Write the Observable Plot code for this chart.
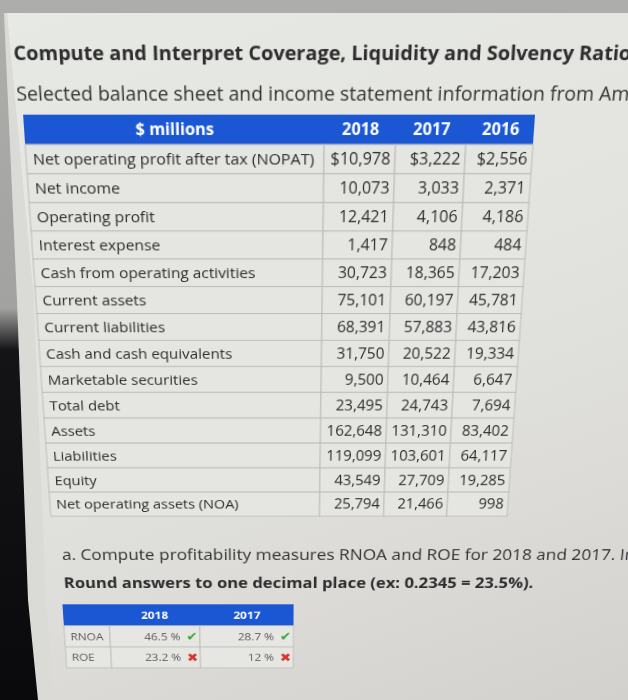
<!DOCTYPE html>
<html><head><meta charset="utf-8">
<script src="https://cdn.jsdelivr.net/npm/d3@7"></script>
<script src="https://cdn.jsdelivr.net/npm/@observablehq/plot@0.6"></script>
<style>
html,body{margin:0;padding:0;width:628px;height:700px;overflow:hidden;}
body{position:relative;font-family:"Open Sans",sans-serif;background:linear-gradient(160deg,#e7e9e5 0%,#e3e4e0 45%,#dcdbd8 75%,#d3d1ce 100%);}
#topbar{position:absolute;left:0;top:0;width:628px;height:13px;background:#adaeac;}
#edge{position:absolute;left:0;top:0;width:60px;height:700px;
  background:linear-gradient(to bottom,#aeaeac 0%,#a2a2a1 44%,#141416 50%,#0a0a0c 100%);
  clip-path:polygon(0 13px,4px 13px,17px 300px,28px 600px,38px 700px,0 700px);}
#strip{position:absolute;left:0;top:0;width:70px;height:700px;background:#dadad7;
  clip-path:polygon(4px 13px,7px 13px,34px 300px,46px 600px,54px 700px,38px 700px,28px 600px,17px 300px);}
#page{position:absolute;left:0;top:0;width:628px;height:760px;transform-origin:278px 316px;transform:perspective(1000px) rotateX(-16deg);}
.t{position:absolute;white-space:nowrap;line-height:1;color:#2d2d2d;}
#title{left:32px;top:52px;font-size:18.5px;font-weight:700;}
#sub{left:32px;top:89px;font-size:18.3px;color:#333;}
#qa{left:46px;top:573px;font-size:18.5px;color:#333;}
#qb{left:46px;top:607px;font-size:18px;font-weight:700;color:#2d2d2d;}
#main{position:absolute;left:0;top:118px;}
#small{position:absolute;left:0;top:643px;}
svg{display:block;}
</style></head>
<body>
<div id="topbar"></div>
<div id="strip"></div>
<div id="edge"></div>
<div id="page">
  <div class="t" id="title">Compute and Interpret Coverage, Liquidity and Solvency Ratios</div>
  <div class="t" id="sub">Selected balance sheet and income statement information from Am</div>
  <div id="main"></div>
  <div class="t" id="qa">a. Compute profitability measures RNOA and ROE for 2018 and 2017. In v</div>
  <div class="t" id="qb">Round answers to one decimal place (ex: 0.2345 = 23.5%).</div>
  <div id="small"></div>
</div>
<script>
// ---- data ----
const headerLabel = "$ millions";
const years = ["2018", "2017", "2016"];
const rowLabels = [
  "Net operating profit after tax (NOPAT)", "Net income", "Operating profit",
  "Interest expense", "Cash from operating activities", "Current assets",
  "Current liabilities", "Cash and cash equivalents", "Marketable securities",
  "Total debt", "Assets", "Liabilities", "Equity", "Net operating assets (NOA)"
];
const v2018 = [10978, 10073, 12421, 1417, 30723, 75101, 68391, 31750, 9500, 23495, 162648, 119099, 43549, 25794];
const v2017 = [3222, 3033, 4106, 848, 18365, 60197, 57883, 20522, 10464, 24743, 131310, 103601, 27709, 21466];
const v2016 = [2556, 2371, 4186, 484, 17203, 45781, 43816, 19334, 6647, 7694, 83402, 64117, 19285, 998];

const ratioYears = ["2018", "2017"];
const ratioLabels = ["RNOA", "ROE"];
const r2018 = [46.5, 23.2];
const r2017 = [28.7, 12];
const ok2018 = [true, false];
const ok2017 = [true, false];

// ---- layout ----
const BLUE = "#1b56d3";
const mainCols = [285, 68, 67, 64];
const smallCols = [50, 99, 103];

function tablePlot({cols, rowNames, headTexts, body, left, height, fs, headFs, textFill, cellFill, stroke, extra}) {
  const edges = [0, ...d3.cumsum(cols)];
  const total = edges[edges.length - 1];
  const rows = ["__hdr", ...rowNames];
  const cells = [];
  rowNames.forEach(r => cols.forEach((c, j) => cells.push({row: r, x1: edges[j], x2: edges[j + 1]})));
  const heads = headTexts.map((t, j) => ({row: "__hdr", x: (edges[j] + edges[j + 1]) / 2, text: t}));
  const labels = rowNames.map(r => ({row: r, x: edges[0], text: r}));
  const nums = [];
  body.forEach((col, j) => col.forEach((t, i) => nums.push({row: rowNames[i], x: edges[j + 2], text: t.text, ok: t.ok})));
  return Plot.plot({
    width: 628, height, marginLeft: left, marginRight: 628 - left - total, marginTop: 0, marginBottom: 0,
    x: {domain: [0, total], axis: null},
    y: {domain: rows, type: "band", padding: 0, round: false, axis: null},
    style: {background: "transparent", fontFamily: "Open Sans", overflow: "visible"},
    marks: [
      Plot.barX([{row: "__hdr", x1: 0, x2: total}], {x1: "x1", x2: "x2", y: "row", fill: BLUE}),
      Plot.barX(cells, {x1: "x1", x2: "x2", y: "row", fill: cellFill, stroke, strokeWidth: 1}),
      Plot.text(heads, {x: "x", y: "row", text: "text", fill: "white", fontWeight: 700, fontSize: headFs}),
      Plot.text(labels, {x: "x", y: "row", text: "text", textAnchor: "start", dx: 6, fill: textFill, fontSize: fs}),
      ...extra(nums)
    ]
  });
}

const fmt = d3.format(",");
const mainBody = [v2018, v2017, v2016].map(arr => arr.map((v, i) => ({text: (i === 0 ? "$" : "") + fmt(v)})));
const main = tablePlot({
  cols: mainCols, rowNames: rowLabels, headTexts: [headerLabel, ...years], body: mainBody,
  left: 37, height: 419, fs: 15.3, headFs: 15.5, textFill: "#2d2d2d", cellFill: "#e5e6e2", stroke: "#bcbdbb",
  extra: nums => [Plot.text(nums, {x: "x", y: "row", text: "text", textAnchor: "end", dx: -5, fill: "#2d2d2d", fontSize: 15.5})]
});
document.getElementById("main").append(main);

const smallBody = [[r2018, ok2018], [r2017, ok2017]].map(([vals, oks]) => vals.map((v, i) => ({text: v + " %", ok: oks[i]})));
const small = tablePlot({
  cols: smallCols, rowNames: ratioLabels, headTexts: ["", ...ratioYears], body: smallBody,
  left: 43, height: 80, fs: 13, headFs: 13, textFill: "#5a5a5a", cellFill: "#e6e7e3", stroke: "#bdbebc",
  extra: nums => [
    Plot.text(nums, {x: "x", y: "row", text: "text", textAnchor: "end", dx: -22, fill: "#5a5a5a", fontSize: 13}),
    Plot.text(nums, {x: "x", y: "row", text: d => d.ok ? "\u2714" : "\u2716", textAnchor: "end", dx: -3,
      fill: d => d.ok ? "#3aa53c" : "#d9342c", fontSize: 15, fontFamily: "DejaVu Sans"})
  ]
});
document.getElementById("small").append(small);
</script>
</body></html>
